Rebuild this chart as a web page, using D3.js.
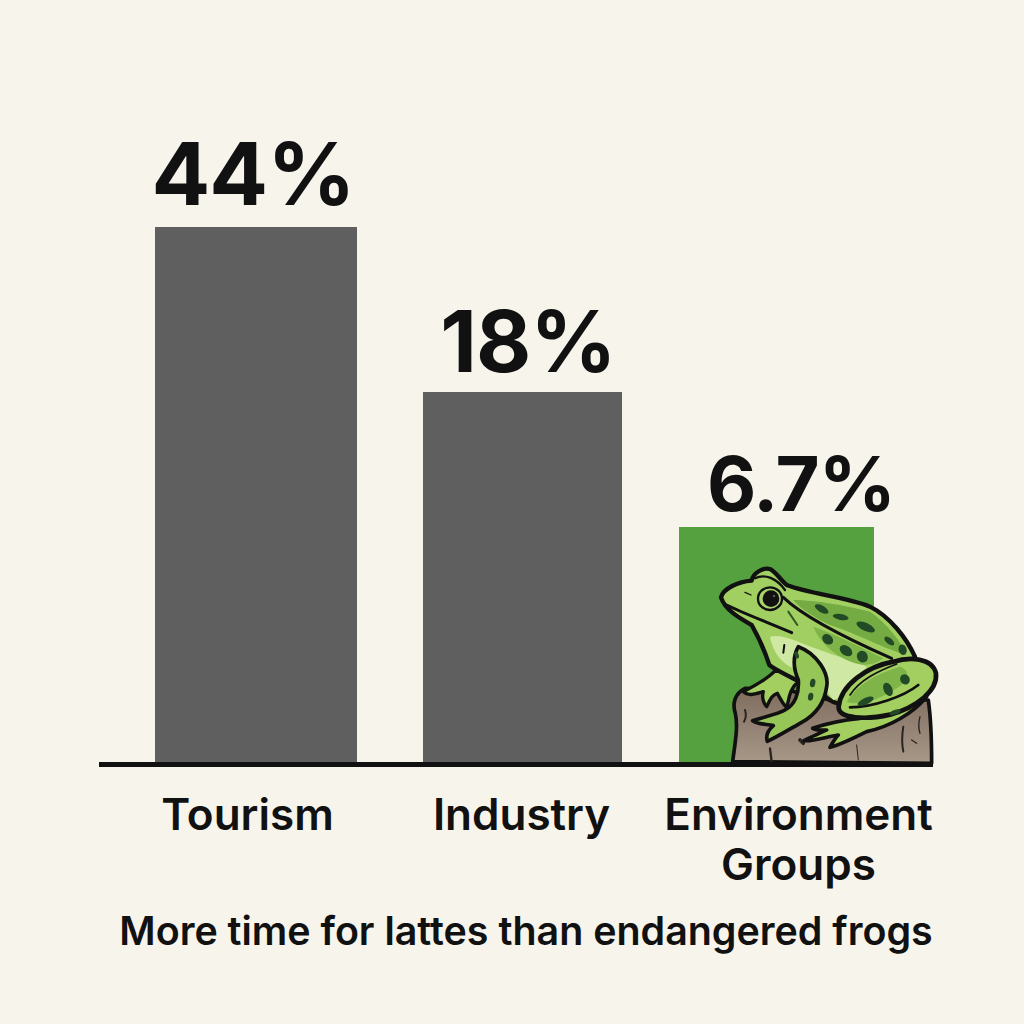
<!DOCTYPE html>
<html>
<head>
<meta charset="utf-8">
<script src="https://cdn.jsdelivr.net/npm/d3@7"></script>
<style>
  html, body { margin: 0; padding: 0; background: #f7f4ec; }
  text { font-family: Inter, "Noto Sans", sans-serif; fill: #111; }
</style>
</head>
<body>
<div class="chart"></div>
<script>
// chart data
var categories = ["Tourism", "Industry", "Environment Groups"];
var values = [44, 18, 6.7];
var valueLabels = ["44%", "18%", "6.7%"];
var barColors = ["#5e5f5e", "#5e5f5e", "#56a13f"];
var caption = "More time for lattes than endangered frogs";

var svgWidth = 1024;
var svgHeight = 1024;
var baseY = 762;

var svg = d3.select(".chart")
  .append("svg")
  .attr("width", svgWidth)
  .attr("height", svgHeight)
  .style("display", "block");

// the original bars are not proportional, so the y scale is piecewise
var y = d3.scaleLinear()
  .domain([0, 6.7, 18, 44])
  .range([baseY, 527, 392, 227]);

// the bars are not evenly spaced either
var barLeft = d3.scaleOrdinal().domain(categories).range([155, 423, 679]);
var barWidth = d3.scaleOrdinal().domain(categories).range([202, 199, 195]);
var valueX = d3.scaleOrdinal().domain(categories).range([253, 528, 801]);
var valueGap = d3.scaleOrdinal().domain(categories).range([22, 20, 16]);
var valueSize = d3.scaleOrdinal().domain(categories).range([87, 85, 76]);
var labelX = d3.scaleOrdinal().domain(categories).range([247, 521, 798]);

// bars
svg.selectAll(".bar")
  .data(categories)
  .enter()
  .append("rect")
  .attr("class", "bar")
  .attr("x", d => barLeft(d))
  .attr("width", d => barWidth(d))
  .attr("y", (d, i) => y(values[i]))
  .attr("height", (d, i) => baseY - y(values[i]))
  .attr("fill", (d, i) => barColors[i]);

// value labels
svg.selectAll(".value")
  .data(categories)
  .enter()
  .append("text")
  .attr("class", "value")
  .attr("x", d => valueX(d))
  .attr("y", (d, i) => y(values[i]) - valueGap(d))
  .attr("text-anchor", "middle")
  .attr("font-size", d => valueSize(d))
  .attr("letter-spacing", -1)
  .attr("font-weight", 700)
  .text((d, i) => valueLabels[i]);

// frog on a stump, traced in the coordinates of a 3x crop
var frog = svg.append("g")
  .attr("transform", "translate(670, 510) scale(0.3333)")
  .attr("stroke-linejoin", "round")
  .attr("stroke-linecap", "round");

var ink = "#111";

var stumpFill = svg.append("defs").append("linearGradient")
  .attr("id", "stumpFill").attr("x1", 0).attr("x2", 0).attr("y1", 0).attr("y2", 1);
stumpFill.append("stop").attr("offset", "0%").attr("stop-color", "#7f6c5e");
stumpFill.append("stop").attr("offset", "100%").attr("stop-color", "#a79888");

// stump
frog.append("path")
  .attr("d", "M188,755 C195,700 205,650 196,610 C186,580 195,550 225,535 L350,540 L480,570 L775,570 C785,640 785,700 785,760 Z")
  .attr("fill", "url(#stumpFill)").attr("stroke", ink).attr("stroke-width", 11);
[["M225,600 C230,615 228,625 222,635", 6], ["M300,715 L305,755", 7], ["M700,650 C695,680 695,700 700,725", 6],
 ["M750,620 C745,640 745,655 750,670", 4], ["M390,690 L400,700", 11], ["M725,690 L740,700", 4], ["M560,705 L565,750", 3]]
  .forEach(function(s) {
    frog.append("path").attr("d", s[0]).attr("fill", "none").attr("stroke", "#2b2420").attr("stroke-width", s[1]);
  });

// rear foot
frog.append("path")
  .attr("d", "M770,560 C730,610 660,650 590,665 C560,680 510,705 480,712 C490,695 495,685 505,675 C470,680 430,695 402,692 C425,680 450,670 470,660 C455,660 440,662 428,655 C470,640 520,630 570,625 Z")
  .attr("fill", "#a3cf61").attr("stroke", ink).attr("stroke-width", 11);

// body and head
frog.append("path")
  .attr("d", "M153,262 C160,235 205,215 245,212 C248,190 280,170 302,178 C322,190 335,215 352,226 C420,252 530,262 600,290 C660,320 710,385 735,440 C700,500 620,560 540,585 C500,585 470,570 455,545 C400,520 330,490 298,465 C285,425 265,380 245,345 C210,325 165,300 153,262 Z")
  .attr("fill", "#a2cf62").attr("stroke", ink).attr("stroke-width", 13);

// lighter belly
frog.append("path")
  .attr("d", "M300,380 C340,370 390,400 450,420 C500,440 550,450 590,470 C560,520 530,555 490,570 C470,540 440,510 390,480 C340,470 310,430 300,380 Z")
  .attr("fill", "#cfe8a3");

// darker flank along the back
frog.append("path")
  .attr("d", "M370,270 C440,270 540,290 600,305 C650,340 690,390 710,435 C650,420 560,370 480,345 C430,320 395,300 370,270 Z")
  .attr("fill", "#74ab42");
frog.append("path")
  .attr("d", "M430,350 C490,370 570,410 640,445 C610,470 570,470 530,450 C490,430 450,400 430,350 Z")
  .attr("fill", "#7fb548");

// head ridge and mouth
frog.append("path").attr("d", "M170,285 C220,310 300,340 365,368").attr("fill", "none").attr("stroke", ink).attr("stroke-width", 9);
frog.append("path").attr("d", "M340,262 C400,320 540,390 665,445").attr("fill", "none").attr("stroke", ink).attr("stroke-width", 9);
frog.append("path").attr("d", "M255,205 C285,190 320,205 345,240").attr("fill", "none").attr("stroke", ink).attr("stroke-width", 7);
frog.append("path").attr("d", "M225,247 L243,255").attr("fill", "none").attr("stroke", ink).attr("stroke-width", 4);
frog.append("path").attr("d", "M355,305 L382,345").attr("fill", "none").attr("stroke", "#2f5a28").attr("stroke-width", 6);
frog.append("path").attr("d", "M343,405 L340,428").attr("fill", "none").attr("stroke", ink).attr("stroke-width", 6);

// eye
frog.append("ellipse").attr("cx", 300).attr("cy", 266).attr("rx", 36).attr("ry", 34)
  .attr("fill", "#a9d36a").attr("stroke", ink).attr("stroke-width", 7);
frog.append("circle").attr("cx", 303).attr("cy", 266).attr("r", 25).attr("fill", ink);
frog.append("circle").attr("cx", 312).attr("cy", 258).attr("r", 4).attr("fill", "#555");

// front hand
frog.append("path")
  .attr("d", "M318,480 C290,510 250,530 220,545 C235,560 255,552 280,545 C275,560 280,580 290,590 C300,570 305,555 322,550 C330,565 340,585 350,592 C358,570 355,540 385,515 Z")
  .attr("fill", "#a3cf61").attr("stroke", ink).attr("stroke-width", 10);

// front leg
frog.append("path")
  .attr("d", "M385,410 C440,430 478,490 470,530 C464,575 440,612 395,637 C360,657 320,682 292,694 C286,675 295,660 310,647 C290,642 265,644 248,632 C285,620 325,612 345,600 C375,585 388,550 385,510 C372,480 365,445 385,410 Z")
  .attr("fill", "#96c558").attr("stroke", ink).attr("stroke-width", 11);

// thigh
frog.append("path")
  .attr("d", "M506,590 C513,525 590,470 670,455 C720,440 787,443 798,490 C804,542 740,592 660,614 C590,630 503,627 506,590 Z")
  .attr("fill", "#a3cf61").attr("stroke", ink).attr("stroke-width", 14);
frog.append("path")
  .attr("d", "M530,575 C560,525 620,490 690,470 C720,480 720,510 680,535 C630,565 580,590 530,575 Z")
  .attr("fill", "#7fb548");
frog.append("path").attr("d", "M540,592 C610,592 700,560 745,525").attr("fill", "none").attr("stroke", ink).attr("stroke-width", 8);
frog.append("path").attr("d", "M540,555 C570,510 620,485 680,462").attr("fill", "none").attr("stroke", ink).attr("stroke-width", 5);

// spots
[[455, 297, 23, 10, 30], [512, 321, 24, 9, 10], [587, 351, 30, 12, 25], [658, 393, 18, 9, 40], [698, 419, 12, 16, -15],
 [473, 388, 18, 14, 40], [528, 422, 21, 14, 35], [577, 440, 18, 16, 60],
 [654, 538, 13, 21, -25], [705, 508, 14, 16, -30], [587, 574, 26, 10, -25], [675, 607, 18, 7, -20],
 [428, 519, 8, 13, 10], [422, 560, 8, 12, 10], [380, 435, 6, 11, -20]]
  .forEach(function(s) {
    frog.append("ellipse")
      .attr("rx", s[2]).attr("ry", s[3])
      .attr("transform", "translate(" + s[0] + "," + s[1] + ") rotate(" + s[4] + ")")
      .attr("fill", "#234a26");
  });

// x axis labels
var xAxis = svg.append("g")
  .attr("transform", "translate(0, 764)")
  .call(d3.axisBottom(labelX).tickSize(0));
xAxis.select(".domain").remove();
xAxis.selectAll("text")
  .attr("y", 66)
  .attr("dy", null)
  .attr("fill", "#111")
  .attr("font-family", "Inter")
  .attr("font-size", 44)
  .attr("font-weight", 600)
  .each(function(d) {
    var words = d.split(" ");
    var t = d3.select(this).text(null);
    words.forEach(function(w, i) {
      t.append("tspan").attr("x", 0).attr("dy", i ? 50 : 0).text(w);
    });
  });

// baseline
svg.append("line")
  .attr("x1", 99).attr("x2", 933)
  .attr("y1", 764.5).attr("y2", 764.5)
  .attr("stroke", "#111").attr("stroke-width", 5);

// caption
svg.append("text")
  .attr("x", 526)
  .attr("y", 945)
  .attr("text-anchor", "middle")
  .attr("font-size", 39.4)
  .attr("font-weight", 600)
  .text(caption);
</script>
</body>
</html>
